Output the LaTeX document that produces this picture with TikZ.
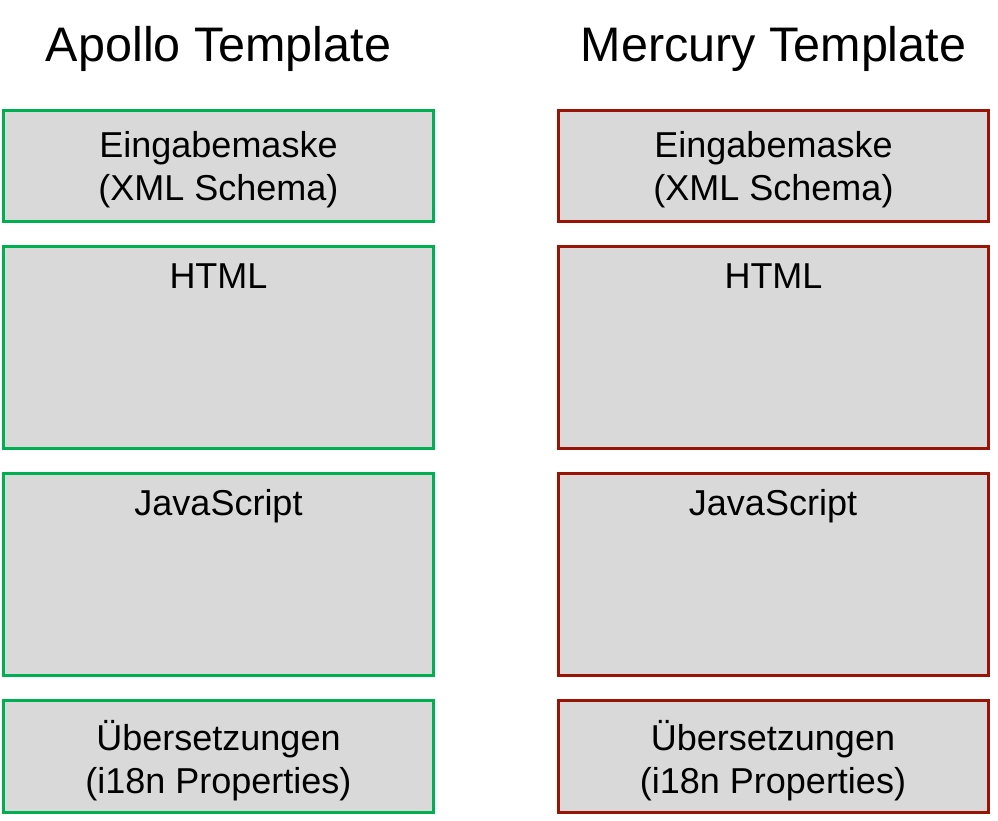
\documentclass[tikz,border=0pt]{standalone}
\usepackage{fontspec}
\setmainfont{Liberation Sans}
\usetikzlibrary{positioning}

\definecolor{apollogreen}{RGB}{0,176,80}
\definecolor{mercuryred}{RGB}{153,20,4}
\definecolor{boxgray}{RGB}{217,217,217}

\tikzset{
    partbox/.style={draw, line width=3pt, fill=boxgray, minimum width=430pt,
        inner sep=0pt, align=center, font=\fontsize{36}{43}\selectfont},
    boxtext/.style={align=center, font=\fontsize{36}{43}\selectfont},
    title/.style={anchor=base, font=\fontsize{48.5}{58}\selectfont},
    toplabel/.style={anchor=base, font=\fontsize{36}{43}\selectfont}
}

\begin{document}
\begin{tikzpicture}[x=1pt, y=-1pt]
    \useasboundingbox (0,0) rectangle (998,820);

    % Apollo
    \node[title] (apollo) at (218.5,61) {Apollo Template};
    \node[partbox, draw=apollogreen, minimum height=111pt] (aeingabe) at (218.5,166) {};
    \node[partbox, draw=apollogreen, minimum height=202pt] (ahtml) at (218.5,347.5) {};
    \node[partbox, draw=apollogreen, minimum height=202pt] (ajs) at (218.5,574.5) {};
    \node[partbox, draw=apollogreen, minimum height=112pt] (ai18n) at (218.5,756.5) {};
    \node[boxtext] (aeingabelabel) at ([yshift=-4pt]aeingabe.center) {Eingabemaske\\(XML Schema)};
    \node[toplabel] (ahtmllabel) at ([yshift=-43.5pt]ahtml.north) {HTML};
    \node[toplabel] (ajslabel) at ([yshift=-43.5pt]ajs.north) {JavaScript};
    \node[boxtext] (ai18nlabel) at ([yshift=-4pt]ai18n.center) {Übersetzungen\\(i18n Properties)};

    % Mercury
    \node[title] (mercury) at (773.5,61) {Mercury Template};
    \node[partbox, draw=mercuryred, minimum height=111pt] (meingabe) at (773.5,166) {};
    \node[partbox, draw=mercuryred, minimum height=202pt] (mhtml) at (773.5,347.5) {};
    \node[partbox, draw=mercuryred, minimum height=202pt] (mjs) at (773,574.5) {};
    \node[partbox, draw=mercuryred, minimum height=112pt] (mi18n) at (773,756.5) {};
    \node[boxtext] (meingabelabel) at ([yshift=-4pt]meingabe.center) {Eingabemaske\\(XML Schema)};
    \node[toplabel] (mhtmllabel) at ([yshift=-43.5pt]mhtml.north) {HTML};
    \node[toplabel] (mjslabel) at ([yshift=-43.5pt]mjs.north) {JavaScript};
    \node[boxtext] (mi18nlabel) at ([yshift=-4pt]mi18n.center) {Übersetzungen\\(i18n Properties)};
\end{tikzpicture}
\end{document}
